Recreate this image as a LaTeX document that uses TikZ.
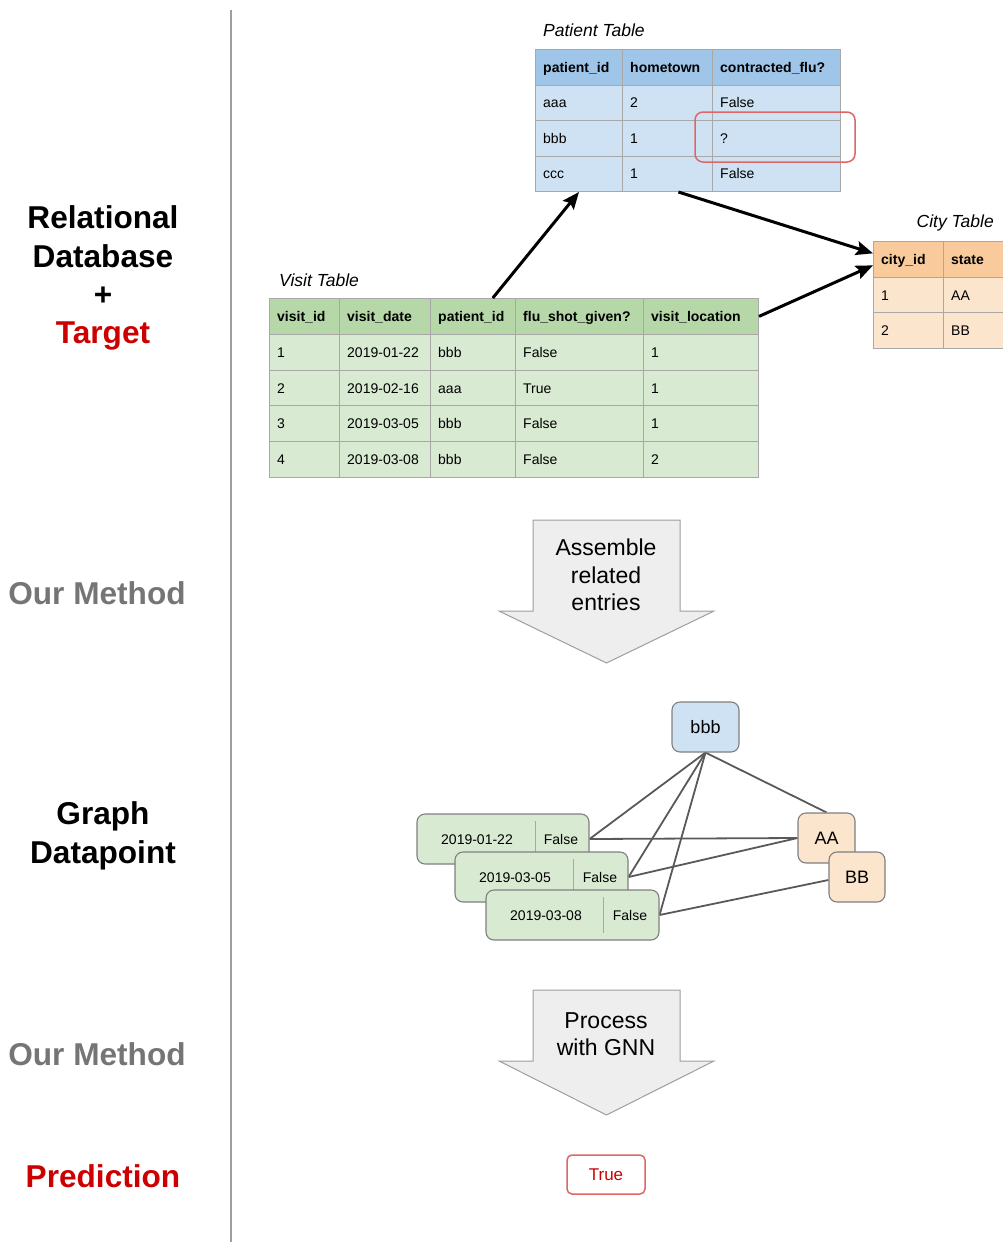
\documentclass[tikz,border=0pt]{standalone}
\usepackage{fontspec}
\setmainfont{Liberation Sans}
\usetikzlibrary{arrows.meta,calc}
\definecolor{phead}{HTML}{9FC5E8}
\definecolor{pbody}{HTML}{CFE2F3}
\definecolor{chead}{HTML}{F9CB9C}
\definecolor{cbody}{HTML}{FCE5CD}
\definecolor{vhead}{HTML}{B6D7A8}
\definecolor{vbody}{HTML}{D9EAD3}
\definecolor{cellline}{HTML}{A8A8A8}
\definecolor{tred}{HTML}{CC0000}
\definecolor{boxred}{HTML}{E06666}
\definecolor{methgray}{HTML}{757575}
\definecolor{edgegray}{HTML}{595959}
\definecolor{nodeline}{HTML}{7F7F7F}
\definecolor{arrowfill}{HTML}{EEEEEE}
\definecolor{arrowline}{HTML}{9E9E9E}
\pgfdeclarelayer{bg}
\pgfsetlayers{bg,main}
\newcommand{\tcell}[8]{%
  \node[cell, fill=#6, minimum width=#4pt, minimum height=#5pt, anchor=north west] (#1) at (#2,#3) {};
  \node[anchor=base west, inner sep=0pt, font=#8] (#1t) at ([xshift=8pt, yshift=-5pt]#1.west) {#7};
}
\begin{document}
\begin{tikzpicture}[x=1pt,y=-1pt,
  cell/.style={draw=cellline, line width=1pt, inner sep=0pt},
  lefttitle/.style={font=\fontsize{31.6}{36}\selectfont\bfseries, inner sep=0pt, text height=22.6pt, text depth=0pt},
  ttitle/.style={font=\fontsize{17.5}{20}\selectfont\itshape, inner sep=0pt},
  fk/.style={line width=3pt, -{Stealth[length=17pt,width=14pt,inset=3pt]}},
  gnode/.style={draw=nodeline, line width=1.1pt, rounded corners=8pt, inner sep=0pt},
  gtext/.style={inner sep=0pt, text height=10pt, text depth=0pt},
  gedge/.style={draw=edgegray, line width=1.8pt},
  divider/.style={draw=cellline, line width=1pt},
  bigarrow/.style={draw=arrowline, fill=arrowfill, line width=1pt, line join=miter},
  bigtext/.style={font=\fontsize{23}{27.3}\selectfont, align=center, inner sep=0pt},
]
\useasboundingbox (0,0) rectangle (1002,1242);

% left column
\draw[draw=arrowline, line width=2pt] (231,10) coordinate (sepA) -- (231,1242) coordinate (sepB);
\node[lefttitle] (l1) at (103,217) {Relational};
\node[lefttitle] (l2) at (103,256) {Database};
\node[lefttitle] (l3) at (103,294) {+};
\node[lefttitle, text=tred] (l4) at (103,332) {Target};
\node[lefttitle, text=methgray] (m1) at (97,593) {Our Method};
\node[lefttitle] (g1) at (103,813) {Graph};
\node[lefttitle] (g2) at (103,852) {Datapoint};
\node[lefttitle, text=methgray] (m2) at (97,1054) {Our Method};
\node[lefttitle, text=tred] (pr) at (103,1176) {Prediction};

% Patient table
\node[ttitle, anchor=west] (ptitle) at (543,30) {Patient Table};
\def\hb{\fontsize{14}{16}\selectfont\bfseries}
\def\bt{\fontsize{14}{16}\selectfont}
\tcell{p11}{535}{49}{87}{35.5}{phead}{patient\_id}{\hb}
\tcell{p12}{622}{49}{90}{35.5}{phead}{hometown}{\hb}
\tcell{p13}{712}{49}{128}{35.5}{phead}{contracted\_flu?}{\hb}
\tcell{p21}{535}{84.5}{87}{35.5}{pbody}{aaa}{\bt}
\tcell{p22}{622}{84.5}{90}{35.5}{pbody}{2}{\bt}
\tcell{p23}{712}{84.5}{128}{35.5}{pbody}{False}{\bt}
\tcell{p31}{535}{120}{87}{35.5}{pbody}{bbb}{\bt}
\tcell{p32}{622}{120}{90}{35.5}{pbody}{1}{\bt}
\tcell{p33}{712}{120}{128}{35.5}{pbody}{?}{\bt}
\tcell{p41}{535}{155.5}{87}{35.5}{pbody}{ccc}{\bt}
\tcell{p42}{622}{155.5}{90}{35.5}{pbody}{1}{\bt}
\tcell{p43}{712}{155.5}{128}{35.5}{pbody}{False}{\bt}
\node[draw=boxred, line width=1.5pt, rounded corners=8pt, minimum width=160pt, minimum height=50pt, inner sep=0pt] (hl) at (775,137) {};

% City table
\node[ttitle, anchor=east] (ctitle) at (994,223) {City Table};
\tcell{c11}{873}{241}{70}{35.7}{chead}{city\_id}{\hb}
\tcell{c12}{943}{241}{62}{35.7}{chead}{state}{\hb}
\tcell{c21}{873}{276.7}{70}{35.7}{cbody}{1}{\bt}
\tcell{c22}{943}{276.7}{62}{35.7}{cbody}{AA}{\bt}
\tcell{c31}{873}{312.4}{70}{35.7}{cbody}{2}{\bt}
\tcell{c32}{943}{312.4}{62}{35.7}{cbody}{BB}{\bt}

% Visit table
\node[ttitle, anchor=west] (vtitle) at (279,280) {Visit Table};
\tcell{v11}{269}{298}{70}{35.8}{vhead}{visit\_id}{\hb}
\tcell{v12}{339}{298}{91}{35.8}{vhead}{visit\_date}{\hb}
\tcell{v13}{430}{298}{85}{35.8}{vhead}{patient\_id}{\hb}
\tcell{v14}{515}{298}{128}{35.8}{vhead}{flu\_shot\_given?}{\hb}
\tcell{v15}{643}{298}{115}{35.8}{vhead}{visit\_location}{\hb}
\tcell{v21}{269}{333.8}{70}{35.8}{vbody}{1}{\bt}
\tcell{v22}{339}{333.8}{91}{35.8}{vbody}{2019-01-22}{\bt}
\tcell{v23}{430}{333.8}{85}{35.8}{vbody}{bbb}{\bt}
\tcell{v24}{515}{333.8}{128}{35.8}{vbody}{False}{\bt}
\tcell{v25}{643}{333.8}{115}{35.8}{vbody}{1}{\bt}
\tcell{v31}{269}{369.6}{70}{35.8}{vbody}{2}{\bt}
\tcell{v32}{339}{369.6}{91}{35.8}{vbody}{2019-02-16}{\bt}
\tcell{v33}{430}{369.6}{85}{35.8}{vbody}{aaa}{\bt}
\tcell{v34}{515}{369.6}{128}{35.8}{vbody}{True}{\bt}
\tcell{v35}{643}{369.6}{115}{35.8}{vbody}{1}{\bt}
\tcell{v41}{269}{405.4}{70}{35.8}{vbody}{3}{\bt}
\tcell{v42}{339}{405.4}{91}{35.8}{vbody}{2019-03-05}{\bt}
\tcell{v43}{430}{405.4}{85}{35.8}{vbody}{bbb}{\bt}
\tcell{v44}{515}{405.4}{128}{35.8}{vbody}{False}{\bt}
\tcell{v45}{643}{405.4}{115}{35.8}{vbody}{1}{\bt}
\tcell{v51}{269}{441.2}{70}{35.8}{vbody}{4}{\bt}
\tcell{v52}{339}{441.2}{91}{35.8}{vbody}{2019-03-08}{\bt}
\tcell{v53}{430}{441.2}{85}{35.8}{vbody}{bbb}{\bt}
\tcell{v54}{515}{441.2}{128}{35.8}{vbody}{False}{\bt}
\tcell{v55}{643}{441.2}{115}{35.8}{vbody}{2}{\bt}

% foreign key arrows
\coordinate (fk1s) at ($(v13.north west)!0.73!(v13.north east)$);
\coordinate (fk2s) at ($(p42.south west)!0.62!(p42.south east)$);
\draw[fk] (fk1s) -- (p41.south);
\draw[fk] (fk2s) -- ([yshift=6pt]c11.west);
\draw[fk] (v15.east) -- ([yshift=-6pt]c11.west);

% big arrow 1
\draw[bigarrow] (533,520) -- (680,520) -- (680,611) -- (714,611) -- (606.5,663) -- (499,611) -- (533,611) -- cycle;
\node[bigtext] (asm) at (606,575) {Assemble\\related\\entries};

% graph
\node[gnode, fill=pbody, minimum width=67pt, minimum height=50pt, font=\fontsize{18}{20}\selectfont, text height=13pt, text depth=0pt] (bbb) at (705.5,727) {bbb};
\node[gnode, fill=vbody, minimum width=172pt, minimum height=50pt] (gv1) at (503,839) {};
\draw[divider] (535,821) -- (535,857);
\node[gtext, font=\bt] (gv1d) at (477,839) {2019-01-22};
\node[gtext, font=\bt] (gv1f) at (561,839) {False};
\node[gnode, fill=vbody, minimum width=173pt, minimum height=50pt] (gv2) at (541.5,877) {};
\draw[divider] (573,859) -- (573,895);
\node[gtext, font=\bt] (gv2d) at (515,877) {2019-03-05};
\node[gtext, font=\bt] (gv2f) at (600,877) {False};
\node[gnode, fill=vbody, minimum width=173pt, minimum height=50pt] (gv3) at (572.5,915) {};
\draw[divider] (603,897) -- (603,933);
\node[gtext, font=\bt] (gv3d) at (546,915) {2019-03-08};
\node[gtext, font=\bt] (gv3f) at (630,915) {False};
\node[gnode, fill=cbody, minimum width=57pt, minimum height=50pt, font=\fontsize{18}{20}\selectfont, text height=13pt, text depth=0pt] (AA) at (826.5,838) {AA};
\node[gnode, fill=cbody, minimum width=56pt, minimum height=50pt, font=\fontsize{18}{20}\selectfont, text height=13pt, text depth=0pt] (BB) at (857,877) {BB};
\begin{pgfonlayer}{bg}
\draw[gedge] (bbb.south) -- (gv1.east);
\draw[gedge] (bbb.south) -- (gv2.east);
\draw[gedge] (bbb.south) -- (gv3.east);
\draw[gedge] (bbb.south) -- (AA.north);
\draw[gedge] (gv1.east) -- (AA.west);
\draw[gedge] (gv2.east) -- (AA.west);
\draw[gedge] (gv3.east) -- ([yshift=-3pt]BB.west);
\end{pgfonlayer}

% big arrow 2
\draw[bigarrow] (533,990) -- (680,990) -- (680,1061) -- (714,1061) -- (606.5,1115) -- (499,1061) -- (533,1061) -- cycle;
\node[bigtext] (gnn) at (606,1034.5) {Process\\with GNN};

% prediction
\node[draw=boxred, line width=1.5pt, rounded corners=5pt, minimum width=78pt, minimum height=39pt, inner sep=0pt, text=tred, font=\fontsize{17}{20}\selectfont, text height=12pt, text depth=0pt] (pred) at (606,1174.5) {True};
\end{tikzpicture}
\end{document}
